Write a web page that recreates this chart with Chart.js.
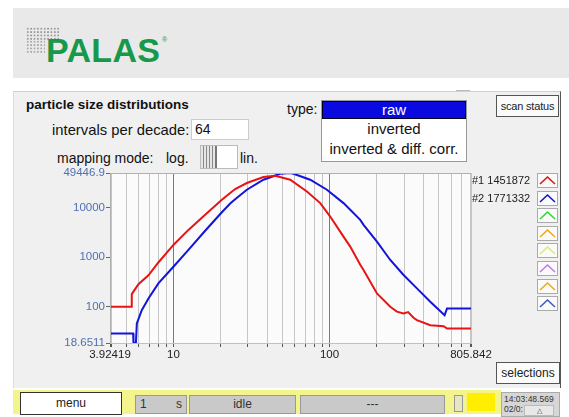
<!DOCTYPE html>
<html>
<head>
<meta charset="utf-8">
<script src="https://cdn.jsdelivr.net/npm/chart.js@4.4.1/dist/chart.umd.min.js"></script>
<style>
  html, body { margin: 0; padding: 0; background: #fff; }
  body { width: 569px; height: 417px; position: relative; overflow: hidden; font-family: "Liberation Sans", Arial, sans-serif; color: #111; }
  .abs { position: absolute; }
  #header { left: 13px; top: 8px; width: 556px; height: 70px; background: #e9e9e9; }
  #dots { left: 26px; top: 27px; width: 34px; height: 13px; background-image: radial-gradient(circle, #9a9a9a 0.9px, transparent 1.3px); background-size: 3.4px 3.4px; }
  #dots2 { left: 26px; top: 40px; width: 19px; height: 13px; background-image: radial-gradient(circle, #a8a8a8 0.9px, transparent 1.3px); background-size: 3.4px 3.4px; }
  #logo { left: 46px; top: 31px; font-size: 34px; font-weight: bold; color: #18984a; letter-spacing: 0.3px; }
  #reg { left: 162px; top: 36px; font-size: 7px; color: #18984a; }
  #panel { left: 13px; top: 91px; width: 546px; height: 296px; background: #f0f0f0; border-top: 1px solid #d0d0d0; border-right: 1px solid #555; border-left: 1px solid #ddd; }
  .lbl { white-space: nowrap; line-height: 1; }
  #list { left: 321px; top: 100px; width: 144px; height: 60px; background: #fff; border: 1px solid #999; }
  .row { height: 20px; line-height: 20px; text-align: center; font-size: 15px; }
  .btn { background: #fbfbfb; border: 1px solid #555; text-align: center; color: #222; }
  #slider { left: 200px; top: 145px; width: 36px; height: 22px; background: #fff; border: 1px solid #bbb; }
  #grip { left: 0; top: 0; width: 14px; height: 22px; background: repeating-linear-gradient(90deg, #e6e6e6 0 2px, #888 2px 3px); border-right: 2px solid #777; }
  .slot { width: 19px; height: 13px; background: #fafafa; border: 1px solid #aaa; }
  #bar { left: 13px; top: 390px; width: 488px; height: 24px; background: #f4f48c; }
  .gbox { background: #c9c9c9; border: 1px solid #999; font-size: 12px; color: #333; height: 17px; line-height: 17px; }
</style>
</head>
<body>
<div id="header" class="abs"></div>
<div id="dots" class="abs"></div>
<div id="dots2" class="abs"></div>
<div id="logo" class="abs">PALAS</div>
<div id="reg" class="abs">®</div>

<div id="panel" class="abs"></div>
<div class="abs" style="left:456px;top:90px;width:14px;height:4px;border-top:1px solid #bbb;"></div>
<div class="abs lbl" style="left:26px;top:98px;font-weight:bold;font-size:13.5px;">particle size distributions</div>
<div class="abs lbl" style="left:287px;top:102px;font-size:14px;">type:</div>
<div id="list" class="abs">
  <div class="row" style="background:#0a0ae0;color:#fff;border:1px solid #002;height:16px;line-height:16px;">raw</div>
  <div class="row">inverted</div>
  <div class="row">inverted &amp; diff. corr.</div>
</div>
<div class="abs btn" style="left:496px;top:95px;width:61px;height:20px;line-height:20px;font-size:11px;letter-spacing:-0.2px;">scan status</div>
<div class="abs lbl" style="left:52px;top:123px;font-size:14.8px;">intervals per decade:</div>
<div class="abs" style="left:191px;top:119px;width:56px;height:19px;background:#fff;border:1px solid #ccc;font-size:14px;line-height:19px;text-indent:3px;">64</div>
<div class="abs lbl" style="left:57px;top:151px;font-size:14px;">mapping mode:</div>
<div class="abs lbl" style="left:166px;top:151px;font-size:14px;">log.</div>
<div id="slider" class="abs"><div id="grip" class="abs"></div></div>
<div class="abs lbl" style="left:240px;top:151px;font-size:14px;">lin.</div>

<div class="abs" style="left:0;top:160px;width:500px;height:205px;">
  <canvas id="psd" width="500" height="205"></canvas>
</div>
<div id="legend" class="abs"></div>
<div id="slots" class="abs"></div>

<div class="abs btn" style="left:496px;top:362px;width:62px;height:20px;line-height:20px;font-size:12px;">selections</div>

<div id="bar" class="abs"></div>
<div class="abs btn" style="left:20px;top:392px;width:100px;height:21px;line-height:21px;font-size:12px;background:#fff;border-color:#333;">menu</div>
<div class="abs gbox" style="left:135px;top:395px;width:50px;"><span style="position:absolute;left:4px;">1</span><span style="position:absolute;right:4px;">s</span></div>
<div class="abs gbox" style="left:189px;top:395px;width:105px;text-align:center;">idle</div>
<div class="abs gbox" style="left:300px;top:395px;width:143px;text-align:center;">---</div>
<div class="abs" style="left:454px;top:395px;width:7px;height:15px;background:#e6e6c0;border:1px solid #999;"></div>
<div class="abs" style="left:467px;top:393px;width:28px;height:18px;background:#ffee00;"></div>
<div class="abs" style="left:501px;top:392px;width:57px;height:23px;background:#d6d6d6;border:1px solid #aaa;font-size:8.5px;color:#333;line-height:10px;">
  <div style="padding-left:2px;padding-top:1px;">14:03:48.569</div>
  <div style="padding-left:2px;">02/0:</div>
  <div class="abs" style="left:22px;top:12px;width:28px;height:9px;background:#e8e8e8;border:1px solid #bbb;font-size:7px;text-align:center;line-height:9px;">△</div>
</div>

<script>
// --- data (diameter, count) ---
const redDiam  = [3.92419, 5.36, 5.41, 5.97, 6.92, 8.01, 10, 12.48, 15.97, 20.43, 23.1, 24.86, 29.54, 37.75, 44.86, 56.0, 71.6, 87.2, 101, 122.9, 135.7, 157.3, 165.2, 201.3, 245, 270, 298, 319, 345, 363, 442, 538, 566, 805.842];
const redCount = [100, 100, 180, 285, 430, 780, 1760, 3536, 7105, 14280, 19500, 23490, 31050, 41040, 43600, 36200, 21010, 12240, 6565, 2589, 1627, 700, 550, 186, 100, 80, 73, 78, 60, 53.8, 42.6, 40.7, 36.5, 36.5];

const blueDiam  = [3.92419, 5.52, 5.55, 5.75, 5.83, 6.27, 6.92, 8.01, 10, 12.48, 15.97, 20.43, 23.1, 24.86, 29.54, 37.75, 48.3, 56.0, 58.8, 75.2, 96.2, 122.9, 135.7, 157.3, 165.2, 201.3, 245, 298, 363, 442, 546, 566, 805.842];
const blueCount = [29, 29, 18.6511, 18.6511, 46.1, 85.6, 147, 296, 641, 1395, 3400, 8000, 12000, 14700, 22730, 36200, 47860, 49446.9, 47860, 36200, 22730, 12240, 8970, 5630, 4462, 2052, 876, 436, 235, 126, 67.8, 92.6, 92.6];

const xTickLabels = [3.92419, 10, 100, 805.842];
const xGridValues = [4, 5, 6, 7, 8, 9, 10, 20, 30, 40, 50, 60, 70, 80, 90, 100, 200, 300, 400, 500, 600, 700, 800];
const yTickLabels = [18.6511, 100, 1000, 10000, 49446.9];

const legendLabels = ['#1 1451872', '#2 1771332'];
const slotColors = ['#e01414', '#1414d0', '#30d830', '#eeac10', '#d4ee78', '#c07ce8', '#eeac10', '#4058c0'];

// --- legend text + colour slots ---
const leg = document.getElementById('legend');
legendLabels.forEach((t, i) => {
  leg.insertAdjacentHTML('beforeend', `<div class="abs lbl" style="left:472px;top:${175 + i * 17.5}px;font-size:11px;color:#222;">${t}</div>`);
});
const slots = document.getElementById('slots');
slotColors.forEach((c, i) => {
  slots.insertAdjacentHTML('beforeend', `
    <div class="abs slot" style="left:537px;top:${173 + i * 17.6}px;">
      <svg width="19" height="13" style="display:block"><polyline points="2,10 9.5,3 17,10" fill="none" stroke="${c}" stroke-width="1.6"/></svg>
    </div>`);
});

// --- chart ---
const plotBg = {
  id: 'plotBg',
  beforeDraw(chart) {
    const { ctx, chartArea: a } = chart;
    ctx.save();
    ctx.fillStyle = '#fbfbfb';
    ctx.fillRect(a.left, a.top, a.right - a.left, a.bottom - a.top);
    ctx.restore();
  },
  afterDatasetsDraw(chart) {
    const { ctx, chartArea: a } = chart;
    ctx.save();
    ctx.strokeStyle = '#b0b0b0';
    ctx.lineWidth = 1;
    ctx.beginPath();
    ctx.moveTo(a.left + 0.5, a.bottom);
    ctx.lineTo(a.left + 0.5, a.top + 0.5);
    ctx.lineTo(a.right, a.top + 0.5);
    ctx.stroke();
    ctx.restore();
  }
};

const toPts = (xs, ys) => xs.map((x, i) => ({ x, y: ys[i] }));

new Chart(document.getElementById('psd'), {
  type: 'line',
  data: {
    datasets: [
      { data: toPts(redDiam, redCount), borderColor: '#e81414', borderWidth: 2, pointRadius: 0, tension: 0 },
      { data: toPts(blueDiam, blueCount), borderColor: '#1414d8', borderWidth: 2, pointRadius: 0, tension: 0 }
    ]
  },
  options: {
    responsive: false,
    animation: false,
    events: [],
    layout: { padding: { top: 13, right: 29, left: 0, bottom: 0 } },
    plugins: { legend: { display: false }, tooltip: { enabled: false } },
    scales: {
      x: {
        type: 'logarithmic',
        min: xTickLabels[0],
        max: xTickLabels[xTickLabels.length - 1],
        afterBuildTicks: s => { s.ticks = [xTickLabels[0], ...xGridValues, xTickLabels[xTickLabels.length - 1]].map(v => ({ value: v })); },
        afterFit: s => { s.height = 22; },
        border: { display: true, color: '#c0c0c0' },
        grid: {
          color: c => (c.tick && (c.tick.value === 10 || c.tick.value === 100)) ? '#7a7a7a' : '#c6c6c6',
          tickColor: '#555',
          tickLength: 4
        },
        ticks: {
          autoSkip: false, maxRotation: 0, padding: 1,
          color: '#222', font: { family: 'Liberation Sans', size: 11.5 },
          callback: v => xTickLabels.includes(v) ? String(v) : ''
        }
      },
      y: {
        type: 'logarithmic',
        min: yTickLabels[0],
        max: yTickLabels[yTickLabels.length - 1],
        afterBuildTicks: s => { s.ticks = yTickLabels.map(v => ({ value: v })); },
        afterFit: s => { s.width = 110; },
        border: { display: false },
        grid: { drawOnChartArea: false, tickColor: '#666', tickLength: 4 },
        ticks: {
          autoSkip: false, padding: 1,
          color: '#5070b4', font: { family: 'Liberation Sans', size: 11.5 },
          callback: v => String(v)
        }
      }
    }
  },
  plugins: [plotBg]
});
</script>
</body>
</html>
